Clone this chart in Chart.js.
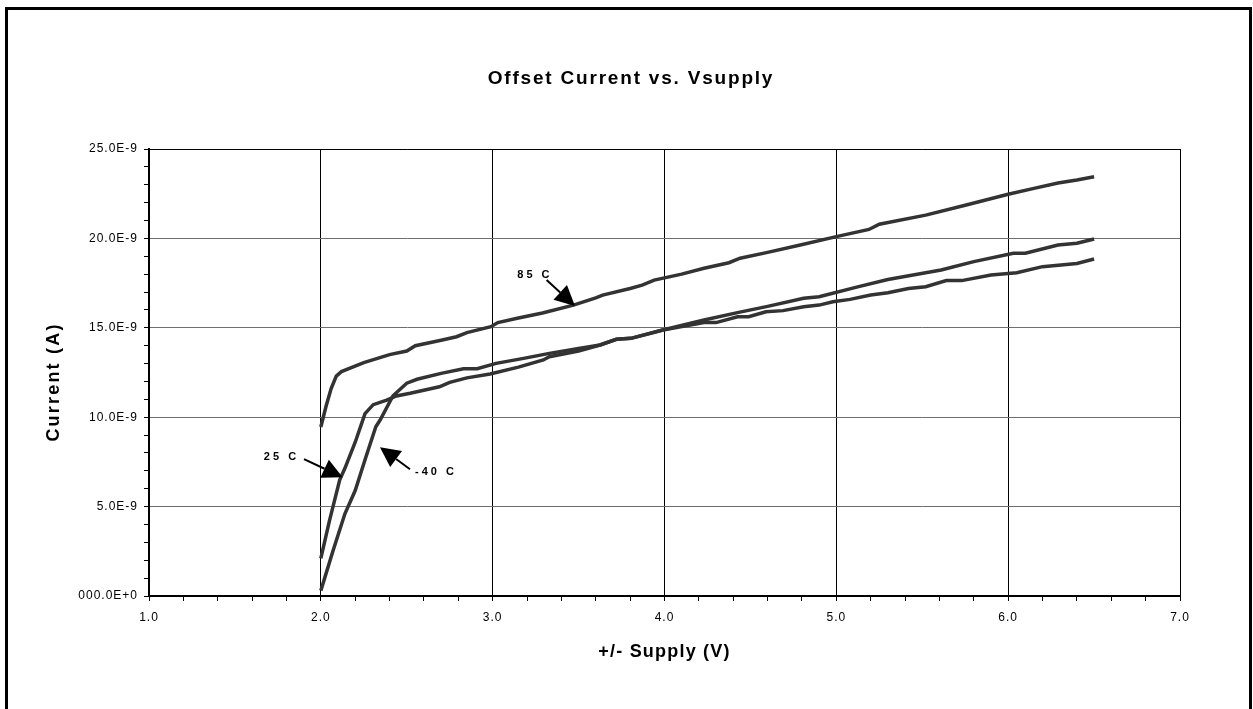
<!DOCTYPE html>
<html>
<head>
<meta charset="utf-8">
<script src="https://cdn.jsdelivr.net/npm/chart.js@4/dist/chart.umd.min.js"></script>
<style>
html,body{margin:0;padding:0;background:#fff;}
#wrap{width:1253px;height:709px;position:relative;overflow:hidden;}
</style>
</head>
<body>
<div id="wrap"><canvas id="c" width="1253" height="709"></canvas></div>
<script>
// ---- data (current in nA) ----
const seriesNames = ['85 C', '25 C', '-40 C'];
const x85 = [2.0, 2.03, 2.06, 2.09, 2.12, 2.25, 2.4, 2.5, 2.55, 2.7, 2.79, 2.85, 2.99, 3.03, 3.15, 3.29, 3.47, 3.6, 3.64, 3.8, 3.87, 3.94, 4.1, 4.23, 4.375, 4.44, 4.6, 4.79, 5.0, 5.19, 5.25, 5.52, 5.75, 6.0, 6.15, 6.29, 6.4, 6.5];
const y85 = [9.45, 10.6, 11.6, 12.3, 12.55, 13.05, 13.5, 13.7, 14.0, 14.3, 14.5, 14.73, 15.06, 15.29, 15.55, 15.83, 16.27, 16.67, 16.83, 17.2, 17.39, 17.67, 18.0, 18.33, 18.64, 18.89, 19.22, 19.63, 20.1, 20.5, 20.79, 21.3, 21.85, 22.47, 22.8, 23.1, 23.27, 23.45];
const x25 = [2.0, 2.05, 2.11, 2.14, 2.2, 2.257, 2.305, 2.383, 2.44, 2.52, 2.69, 2.75, 2.85, 2.985, 3.15, 3.295, 3.33, 3.5, 3.625, 3.72, 3.805, 3.99, 4.23, 4.425, 4.6, 4.81, 4.9, 5.13, 5.3, 5.52, 5.61, 5.8, 6.03, 6.1, 6.29, 6.4, 6.5];
const y25 = [2.1, 4.2, 6.5, 7.14, 8.6, 10.2, 10.7, 10.96, 11.19, 11.34, 11.7, 11.95, 12.2, 12.42, 12.8, 13.2, 13.38, 13.7, 14.04, 14.36, 14.41, 14.88, 15.44, 15.85, 16.2, 16.65, 16.74, 17.3, 17.7, 18.08, 18.23, 18.7, 19.17, 19.17, 19.63, 19.73, 19.97];
const xm40 = [2.0, 2.07, 2.14, 2.2, 2.26, 2.32, 2.345, 2.42, 2.5, 2.56, 2.7, 2.83, 2.91, 3.02, 3.18, 3.33, 3.5, 3.625, 3.72, 3.805, 3.99, 4.23, 4.3, 4.425, 4.49, 4.59, 4.69, 4.81, 4.9, 4.98, 5.08, 5.2, 5.3, 5.42, 5.52, 5.64, 5.73, 5.9, 6.05, 6.2, 6.4, 6.5];
const ym40 = [0.3, 2.5, 4.6, 5.9, 7.7, 9.47, 9.84, 11.2, 11.9, 12.12, 12.45, 12.71, 12.71, 13.01, 13.29, 13.57, 13.85, 14.04, 14.36, 14.41, 14.88, 15.29, 15.29, 15.62, 15.62, 15.9, 15.96, 16.18, 16.27, 16.46, 16.59, 16.83, 16.96, 17.2, 17.3, 17.64, 17.64, 17.95, 18.08, 18.42, 18.6, 18.85];

const xTickValues = [1, 2, 3, 4, 5, 6, 7];
const xTickLabels = ['1.0', '2.0', '3.0', '4.0', '5.0', '6.0', '7.0'];
const yTickValues = [0, 5, 10, 15, 20, 25];
const yTickLabels = ['000.0E+0', '5.0E-9', '10.0E-9', '15.0E-9', '20.0E-9', '25.0E-9'];

const chartTitle = 'Offset Current vs. Vsupply';
const xTitle = '+/- Supply (V)';
const yTitle = 'Current (A)';

// annotation placement in data units
const notes = [
  {text: seriesNames[0], tx: 3.246, ty: 17.95, fx: 3.314, fy: 17.67, ax: 3.479, ay: 16.22},
  {text: seriesNames[1], tx: 1.771, ty: 7.75, fx: 1.902, fy: 7.66, ax: 2.127, ay: 6.64},
  {text: seriesNames[2], tx: 2.670, ty: 6.96, fx: 2.519, fy: 7.09, ax: 2.344, ay: 8.32}
];

const pts = (xs, ys) => xs.map((x, i) => ({x: x, y: ys[i]}));
const FONT = "'Liberation Sans', Arial, sans-serif";
const near = (v, arr) => arr.findIndex(a => Math.abs(a - v) < 1e-6);

const decor = {
  id: 'decor',
  beforeDraw(chart) {
    chart.ctx.letterSpacing = '1px';
  },
  afterDraw(chart) {
    const ctx = chart.ctx;
    const a = chart.chartArea;
    const xs = chart.scales.x, ys = chart.scales.y;
    ctx.save();
    // outer frame
    ctx.strokeStyle = '#000';
    ctx.lineWidth = 3;
    ctx.strokeRect(6.5, 8.5, 1244, 760);
    // plot frame top/right
    ctx.lineWidth = 1;
    ctx.beginPath();
    ctx.moveTo(Math.round(a.left) + 0.5, Math.round(a.top) + 0.5);
    ctx.lineTo(Math.round(a.right) + 0.5, Math.round(a.top) + 0.5);
    ctx.lineTo(Math.round(a.right) + 0.5, Math.round(a.bottom));
    ctx.stroke();
    // titles
    ctx.fillStyle = '#000';
    ctx.textAlign = 'center';
    ctx.textBaseline = 'middle';
    ctx.font = 'bold 19px ' + FONT;
    ctx.letterSpacing = '1.8px';
    ctx.fillText(chartTitle, 631, 79);
    ctx.font = 'bold 18px ' + FONT;
    ctx.letterSpacing = '1.2px';
    ctx.fillText(xTitle, (a.left + a.right) / 2, 652);
    ctx.save();
    ctx.translate(54, 382);
    ctx.rotate(-Math.PI / 2);
    ctx.letterSpacing = '2.2px';
    ctx.fillText(yTitle, 0, 0);
    ctx.restore();
    // annotations
    ctx.font = 'bold 11px ' + FONT;
    ctx.letterSpacing = '3px';
    notes.forEach(n => {
      const tx = xs.getPixelForValue(n.tx), ty = ys.getPixelForValue(n.ty);
      ctx.fillText(n.text, tx, ty);
      const fx = xs.getPixelForValue(n.fx), fy = ys.getPixelForValue(n.fy);
      const px = xs.getPixelForValue(n.ax), py = ys.getPixelForValue(n.ay);
      const ang = Math.atan2(py - fy, px - fx);
      const L = 20, W = 10;
      const bx = px - L * Math.cos(ang), by = py - L * Math.sin(ang);
      ctx.strokeStyle = '#000';
      ctx.lineWidth = 2;
      ctx.beginPath();
      ctx.moveTo(fx, fy);
      ctx.lineTo(bx, by);
      ctx.stroke();
      ctx.beginPath();
      ctx.moveTo(px, py);
      ctx.lineTo(bx + W * Math.sin(ang), by - W * Math.cos(ang));
      ctx.lineTo(bx - W * Math.sin(ang), by + W * Math.cos(ang));
      ctx.closePath();
      ctx.fillStyle = '#000';
      ctx.fill();
    });
    ctx.restore();
  }
};

const lineStyle = {showLine: true, pointRadius: 0, borderColor: '#333333', borderWidth: 3.5, tension: 0, fill: false};

new Chart(document.getElementById('c'), {
  type: 'scatter',
  data: {
    datasets: [
      Object.assign({label: seriesNames[0], data: pts(x85, y85)}, lineStyle),
      Object.assign({label: seriesNames[1], data: pts(x25, y25)}, lineStyle),
      Object.assign({label: seriesNames[2], data: pts(xm40, ym40)}, lineStyle)
    ]
  },
  options: {
    responsive: false,
    animation: false,
    devicePixelRatio: 1,
    layout: {padding: {top: 149, left: 0, right: 73, bottom: 0}},
    plugins: {legend: {display: false}, tooltip: {enabled: false}, title: {display: false}},
    scales: {
      x: {
        type: 'linear', min: 1, max: 7,
        afterFit(s) { s.height = 113; },
        ticks: {
          stepSize: 0.2, autoSkip: false, maxRotation: 0, padding: 9,
          color: '#000', font: {family: FONT, size: 12},
          callback: v => { const i = near(v, xTickValues); return i >= 0 ? xTickLabels[i] : ''; }
        },
        grid: {
          color: c => near(c.tick.value, xTickValues) >= 0 ? '#000' : 'rgba(0,0,0,0)',
          tickColor: '#000', tickLength: 5, lineWidth: 1
        },
        border: {color: '#000', width: 2}
      },
      y: {
        type: 'linear', min: 0, max: 25,
        afterFit(s) { s.width = 149; },
        ticks: {
          stepSize: 1, autoSkip: false, padding: 6,
          color: '#000', font: {family: FONT, size: 12},
          callback: v => { const i = near(v, yTickValues); return i >= 0 ? yTickLabels[i] : ''; }
        },
        grid: {
          color: c => near(c.tick.value, yTickValues) >= 0 ? '#6e6e6e' : 'rgba(0,0,0,0)',
          tickColor: '#000', tickLength: 5, lineWidth: 1
        },
        border: {color: '#000', width: 2}
      }
    }
  },
  plugins: [decor]
});
</script>
</body>
</html>
